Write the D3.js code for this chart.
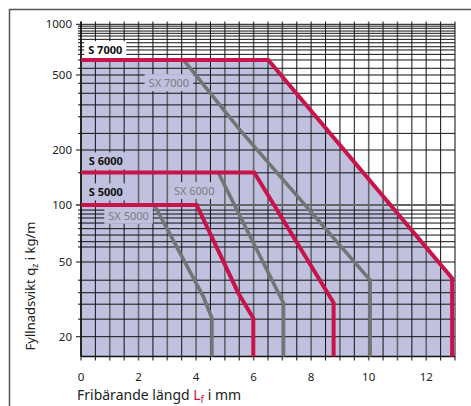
<!DOCTYPE html>
<html><head><meta charset="utf-8">
<script src="https://cdn.jsdelivr.net/npm/d3@7/dist/d3.min.js"></script>
<style>body{margin:0;background:#fff}svg{display:block}text{font-family:"Noto Sans",sans-serif}</style>
</head><body>
<svg id="c" width="471" height="406"></svg>
<script>
// ---- data ----
const xTicks = [0, 2, 4, 6, 8, 10, 12];
const yTicks = [1000, 500, 200, 100, 50, 20];
const yGrid = [1000, 975, 947, 912, 884, 852, 814, 777, 736, 704, 663, 614, 548, 500, 452, 400, 347, 300, 245, 200, 150, 100, 94, 89.6, 85.4, 80.3, 75, 69.4, 64, 60, 50, 40, 34.3, 29.8, 24.8, 20];
const xGrid = d3.range(0, 13.01, 0.5);
const s7000 = [[0, 614], [6.51, 614], [12.9, 41], [12.9, 15.8]];
const sx7000 = [[3.56, 614], [5.53, 255], [10.05, 40], [10.05, 15.8]];
const s6000 = [[0, 150.6], [6.02, 150.6], [8.78, 30.3], [8.78, 15.8]];
const sx6000 = [[4.77, 150.6], [7.04, 30.2], [7.04, 15.8]];
const s5000 = [[0, 100], [4.02, 100], [5.47, 34.1], [5.99, 25.1], [5.99, 15.8]];
const sx5000 = [[2.55, 100], [4.25, 32.7], [4.55, 25.1], [4.55, 15.8]];
const envelope = [[0, 15.8], [0, 614], [6.51, 614], [12.9, 41], [12.9, 15.8]];
const labels = [
  {t: "S 7000", x: 0.25, y: 700, bold: true, box: "#fff"},
  {t: "SX 7000", x: 2.35, y: 452, bold: false, box: "lav"},
  {t: "S 6000", x: 0.27, y: 173, bold: true, box: "lav"},
  {t: "SX 6000", x: 3.23, y: 119, bold: false, box: "lav"},
  {t: "S 5000", x: 0.27, y: 117, bold: true, box: "lav"},
  {t: "SX 5000", x: 0.95, y: 87.5, bold: false, box: "lav"}
];

// ---- scales ----
const x = d3.scaleLinear().domain([0, 13]).range([81, 455]);
const y = d3.scaleLog()
  .domain([1039, 1000, 500, 200, 100, 50, 20, 15.8])
  .range([21.5, 24.3, 75, 150, 205, 262, 336.7, 356.5]);

const RED = "#c8144b", GRAY = "#747474", LAV = "#bfc1de";
const svg = d3.select("#c");

// frame
svg.append("rect").attr("x", 9.5).attr("y", 9.5).attr("width", 480).attr("height", 420)
  .attr("fill", "none").attr("stroke", "#555").attr("stroke-width", 1.5);

// envelope fill
const line = d3.line().x(d => x(d[0])).y(d => y(d[1]));
svg.append("path").attr("d", line(envelope) + "Z").attr("fill", LAV);

const yTop = y(1039), yBot = y(15.8);
// vertical grid
svg.append("g").selectAll("line").data(xGrid).join("line")
  .attr("x1", d => x(d)).attr("x2", d => x(d))
  .attr("y1", yTop).attr("y2", yBot + 4)
  .attr("stroke", d => Number.isInteger(d) ? "#666" : "#111")
  .attr("stroke-width", d => Number.isInteger(d) ? 1.6 : 1);
// horizontal grid
svg.append("g").selectAll("line").data(yGrid).join("line")
  .attr("x1", d => yTicks.includes(d) ? x(0) - 5 : x(0) - 3).attr("x2", x(13))
  .attr("y1", d => y(d)).attr("y2", d => y(d))
  .attr("stroke", d => d === 100 ? "#666" : "#111")
  .attr("stroke-width", d => d === 100 ? 1.8 : 1);

// axes lines
svg.append("line").attr("x1", x(0)).attr("x2", x(0)).attr("y1", yTop).attr("y2", yBot)
  .attr("stroke", "#111").attr("stroke-width", 1.6);
svg.append("line").attr("x1", x(0)).attr("x2", x(13)).attr("y1", yBot).attr("y2", yBot)
  .attr("stroke", "#111").attr("stroke-width", 1.6);

// tick labels
svg.append("g").selectAll("text").data(yTicks).join("text")
  .attr("x", 72).attr("y", d => y(d)).attr("dy", "0.35em").attr("text-anchor", "end")
  .attr("font-size", 11.5).attr("fill", "#222").text(d => d);
svg.append("g").selectAll("text").data(xTicks).join("text")
  .attr("x", d => x(d)).attr("y", 381).attr("text-anchor", "middle")
  .attr("font-size", 11.5).attr("fill", "#222").text(d => d);

// series labels
labels.forEach(l => {
  const t = svg.append("text").attr("x", x(l.x)).attr("y", y(l.y)).attr("dy", "0.35em")
    .attr("font-size", 11).attr("font-weight", l.bold ? "bold" : "normal")
    .attr("fill", l.bold ? "#111" : "#7d7d7d").text(l.t);
  const b = t.node().getBBox();
  svg.insert("rect", () => t.node())
    .attr("x", b.x - 4).attr("y", b.y - 1).attr("width", b.width + 8).attr("height", b.height + 2)
    .attr("fill", l.box === "lav" ? LAV : l.box);
});

// curves
[[sx7000, GRAY], [sx6000, GRAY], [sx5000, GRAY], [s7000, RED], [s6000, RED], [s5000, RED]].forEach(([d, c]) => {
  svg.append("path").attr("d", line(d)).attr("fill", "none").attr("stroke", c)
    .attr("stroke-width", c === RED ? 4 : 3.6).attr("stroke-linejoin", "miter");
});

// axis titles
const yl = svg.append("text").attr("transform", "translate(35,286) rotate(-90)")
  .attr("text-anchor", "middle").attr("font-size", 13).attr("fill", "#222");
yl.append("tspan").text("Fyllnadsvikt q");
yl.append("tspan").attr("font-size", 9).attr("dy", 3).text("z");
yl.append("tspan").attr("dy", -3).text(" i kg/m");

const xl = svg.append("text").attr("x", 77).attr("y", 400)
  .attr("font-size", 14).attr("fill", "#222");
xl.append("tspan").text("Fribärande längd ");
xl.append("tspan").attr("fill", RED).text("L");
xl.append("tspan").attr("fill", RED).attr("font-size", 10).attr("dy", 3).text("f");
xl.append("tspan").attr("dy", -3).text(" i mm");
</script>
</body></html>
